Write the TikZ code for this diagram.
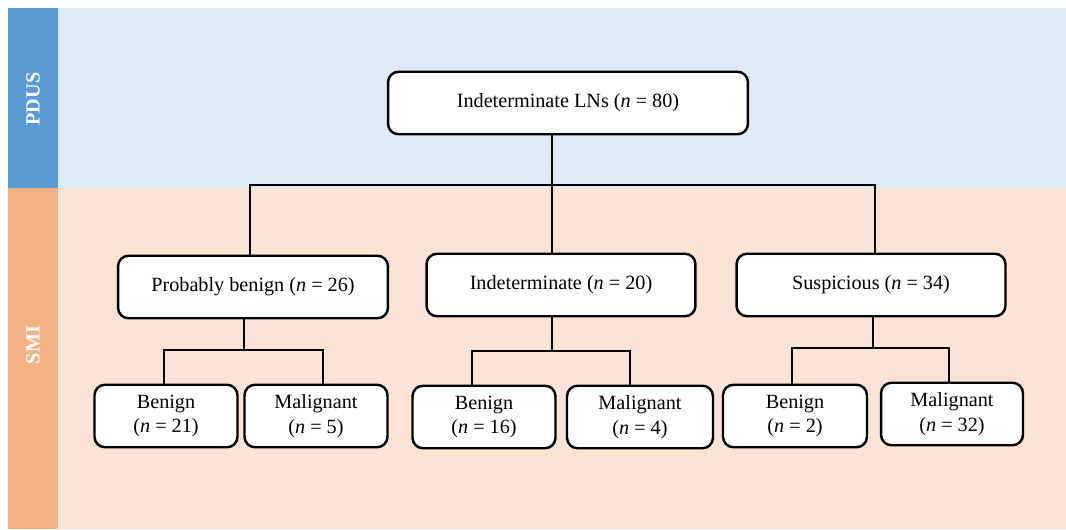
\documentclass[tikz,border=0pt]{standalone}
\usepackage{fontspec}
\setmainfont{Liberation Serif}
\usepackage{tikz}
\usetikzlibrary{calc}
\definecolor{pdusdark}{HTML}{5B9BD5}
\definecolor{pduslight}{HTML}{DEEAF6}
\definecolor{smidark}{HTML}{F4B183}
\definecolor{smilight}{HTML}{FBE4D5}
\tikzset{
	lnbox/.style={draw, line width=1.4pt, rounded corners=6pt, fill=white, align=center, minimum height=1.25cm, inner sep=0pt, font=\fontsize{11.5}{14}\selectfont},
	link/.style={line width=1.3pt},
	bandlabel/.style={rotate=90, text=white, font=\bfseries\fontsize{11.5}{14}\selectfont}
}
\begin{document}
\begin{tikzpicture}[x=0.02cm,y=-0.02cm]
			\useasboundingbox (0,0) rectangle (1066,529);
			\fill[pduslight] (58,8) rectangle (1066,188);
			\fill[smilight] (58,188) rectangle (1066,529);
			\fill[pdusdark] (8,8) rectangle (58,188);
			\fill[smidark] (8,188) rectangle (58,529);
			\node[bandlabel] (pdus) at (33,99) {PDUS};
			\node[bandlabel] (smi) at (33,345) {SMI};
			\node[lnbox, minimum width=7.2cm] (top) at (568,103) {Indeterminate LNs (\textit{n} = 80)};
			\node[lnbox, minimum width=5.4cm] (pb) at (253,287) {Probably benign (\textit{n} = 26)};
			\node[lnbox, minimum width=5.38cm] (ind) at (561,285) {Indeterminate (\textit{n} = 20)};
			\node[lnbox, minimum width=5.38cm] (sus) at (871,285) {Suspicious (\textit{n} = 34)};
			\node[lnbox, minimum width=2.86cm] (b1) at (166,416) {Benign\\(\textit{n} = 21)};
			\node[lnbox, minimum width=2.86cm] (m1) at (316,416) {Malignant\\(\textit{n} = 5)};
			\node[lnbox, minimum width=2.86cm] (b2) at (484,417) {Benign\\(\textit{n} = 16)};
			\node[lnbox, minimum width=2.92cm] (m2) at (640,417) {Malignant\\(\textit{n} = 4)};
			\node[lnbox, minimum width=2.88cm] (b3) at (795,416) {Benign\\(\textit{n} = 2)};
			\node[lnbox, minimum width=2.84cm] (m3) at (952,414) {Malignant\\(\textit{n} = 32)};
			\coordinate (j0) at (552,185);
			\coordinate (j0l) at (250,185);
			\coordinate (j0r) at (875,185);
			\coordinate (j1) at (244,350);
			\coordinate (j1l) at (164,350);
			\coordinate (j1r) at (323,350);
			\coordinate (j2) at (552,351);
			\coordinate (j2l) at (472,351);
			\coordinate (j2r) at (630,351);
			\coordinate (j3) at (873,348);
			\coordinate (j3l) at (792,348);
			\coordinate (j3r) at (949,348);
			\draw[link] (top.south -| j0) -- (j0);
			\draw[link] (pb.north -| j0l) -- (j0l) -- (j0r) -- (sus.north -| j0r);
			\draw[link] (j0) -- (ind.north -| j0);
			\draw[link] (pb.south -| j1) -- (j1);
			\draw[link] (b1.north -| j1l) -- (j1l) -- (j1r) -- (m1.north -| j1r);
			\draw[link] (ind.south -| j2) -- (j2);
			\draw[link] (b2.north -| j2l) -- (j2l) -- (j2r) -- (m2.north -| j2r);
			\draw[link] (sus.south -| j3) -- (j3);
			\draw[link] (b3.north -| j3l) -- (j3l) -- (j3r) -- (m3.north -| j3r);
\end{tikzpicture}
\end{document}
